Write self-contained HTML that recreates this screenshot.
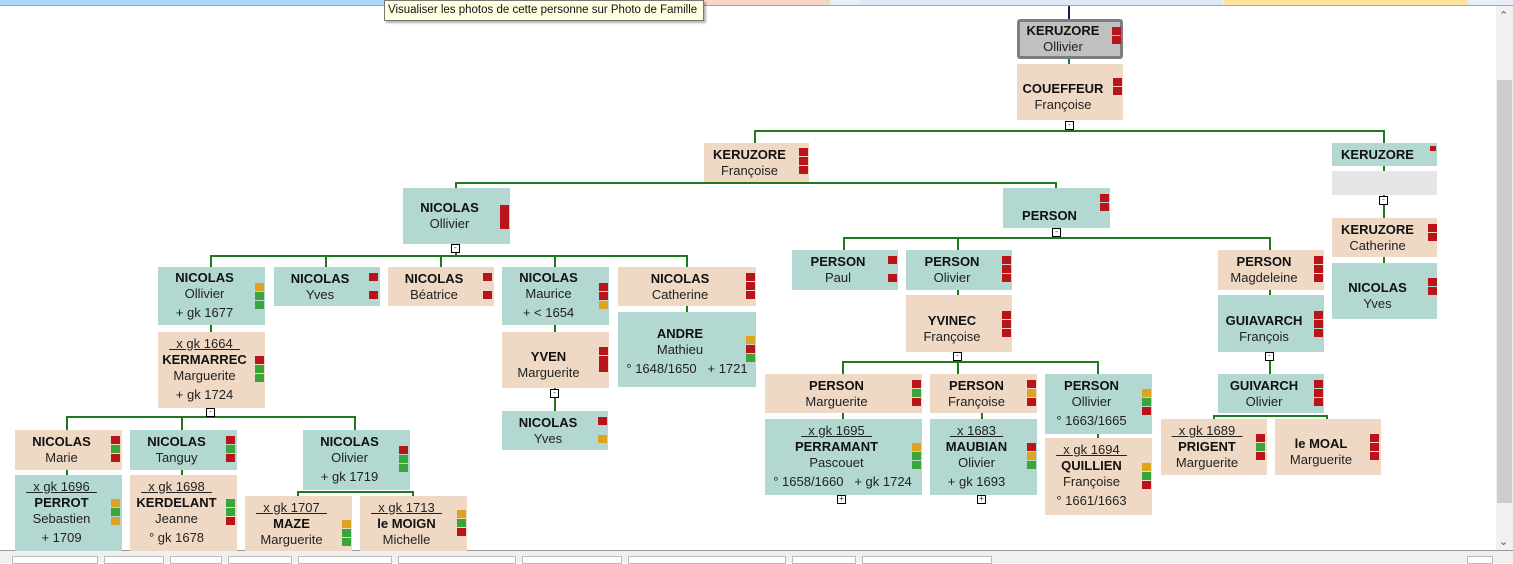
<!DOCTYPE html>
<html><head><meta charset="utf-8"><style>
*{margin:0;padding:0;box-sizing:border-box}
body{width:1513px;height:563px;position:relative;overflow:hidden;background:#fff;font-family:"Liberation Sans",Arial,sans-serif;font-size:13px;color:#222}
.b{position:absolute;display:flex;flex-direction:column;justify-content:center;align-items:center;padding-right:14px;line-height:16px;text-align:center}
.t{background:#b2d8d1}.e{background:#efd9c5}
.b b{font-weight:bold;font-size:13px;color:#111}
.u{text-decoration:underline;white-space:pre}
.l{margin-top:3px;margin-bottom:2px}
.sq{position:absolute;width:9px;height:8px}
.r{background:#b8141a}.g{background:#3aa53a}.y{background:#dca421}
.h{position:absolute;height:2px;background:#1f7a1f}
.v{position:absolute;width:2px;background:#1f7a1f}
.m{position:absolute;width:9px;height:9px;border:1px solid #000;background:#fff;font-size:8px;line-height:6px;text-align:center}
</style></head><body>
<!-- top bar -->
<div style="position:absolute;left:0;top:0;width:1513px;height:5px;background:#e8eef6"></div>
<div style="position:absolute;left:0;top:0;width:385px;height:5px;background:#a9d7f5"></div>
<div style="position:absolute;left:703px;top:0;width:127px;height:5px;background:#f6d6c6"></div>
<div style="position:absolute;left:860px;top:0;width:362px;height:5px;background:#dde9f7"></div>
<div style="position:absolute;left:1224px;top:0;width:244px;height:5px;background:#fbe49e"></div>
<div style="position:absolute;left:0;top:5px;width:1513px;height:1px;background:#9aa"></div>
<!-- scrollbar -->
<div style="position:absolute;left:1496px;top:6px;width:17px;height:544px;background:#f0f0f0"></div>
<div style="position:absolute;left:1497px;top:80px;width:15px;height:423px;background:#cdcdcd"></div>
<div style="position:absolute;left:1499px;top:9px;font-size:11px;color:#555">&#8963;</div>
<div style="position:absolute;left:1499px;top:535px;font-size:11px;color:#555">&#8964;</div>
<!-- bottom bar -->
<div style="position:absolute;left:0;top:550px;width:1513px;height:13px;background:#f0f0f0;border-top:1px solid #999"></div>
<div style="position:absolute;left:12px;top:556px;width:86px;height:8px;border:1px solid #bbb;background:#fff"></div>
<div style="position:absolute;left:104px;top:556px;width:60px;height:8px;border:1px solid #bbb;background:#fff"></div>
<div style="position:absolute;left:170px;top:556px;width:52px;height:8px;border:1px solid #bbb;background:#fff"></div>
<div style="position:absolute;left:228px;top:556px;width:64px;height:8px;border:1px solid #bbb;background:#fff"></div>
<div style="position:absolute;left:298px;top:556px;width:94px;height:8px;border:1px solid #bbb;background:#fff"></div>
<div style="position:absolute;left:398px;top:556px;width:118px;height:8px;border:1px solid #bbb;background:#fff"></div>
<div style="position:absolute;left:522px;top:556px;width:100px;height:8px;border:1px solid #bbb;background:#fff"></div>
<div style="position:absolute;left:628px;top:556px;width:158px;height:8px;border:1px solid #bbb;background:#fff"></div>
<div style="position:absolute;left:792px;top:556px;width:64px;height:8px;border:1px solid #bbb;background:#fff"></div>
<div style="position:absolute;left:862px;top:556px;width:130px;height:8px;border:1px solid #bbb;background:#fff"></div>
<div style="position:absolute;left:1467px;top:556px;width:26px;height:8px;border:1px solid #bbb;background:#fff"></div>

<!-- connectors -->
<div class="v" style="left:1068px;top:6px;height:13px;background:#1a1a5a"></div>
<div class="v" style="left:1068px;top:58px;height:6px"></div>
<div class="h" style="left:755px;top:130px;width:630px"></div>
<div class="v" style="left:754px;top:130px;height:13px"></div>
<div class="v" style="left:1383px;top:130px;height:13px"></div>
<div class="v" style="left:1383px;top:165px;height:6px"></div>
<div class="v" style="left:1383px;top:195px;height:23px"></div>
<div class="v" style="left:1383px;top:257px;height:6px"></div>
<div class="h" style="left:456px;top:182px;width:601px"></div>
<div class="v" style="left:455px;top:182px;height:6px"></div>
<div class="v" style="left:1055px;top:182px;height:6px"></div>
<div class="h" style="left:211px;top:255px;width:477px"></div>
<div class="v" style="left:455px;top:243px;height:12px"></div>
<div class="v" style="left:210px;top:255px;height:12px"></div>
<div class="v" style="left:325px;top:255px;height:12px"></div>
<div class="v" style="left:440px;top:255px;height:12px"></div>
<div class="v" style="left:554px;top:255px;height:12px"></div>
<div class="v" style="left:686px;top:255px;height:12px"></div>
<div class="v" style="left:210px;top:325px;height:7px"></div>
<div class="v" style="left:554px;top:325px;height:7px"></div>
<div class="v" style="left:686px;top:305px;height:7px"></div>
<div class="v" style="left:554px;top:387px;height:24px"></div>
<div class="h" style="left:67px;top:416px;width:289px"></div>
<div class="v" style="left:210px;top:407px;height:9px"></div>
<div class="v" style="left:66px;top:416px;height:14px"></div>
<div class="v" style="left:181px;top:416px;height:14px"></div>
<div class="v" style="left:354px;top:416px;height:14px"></div>
<div class="v" style="left:66px;top:469px;height:6px"></div>
<div class="v" style="left:181px;top:469px;height:6px"></div>
<div class="h" style="left:297px;top:491px;width:117px"></div>
<div class="v" style="left:297px;top:491px;height:5px"></div>
<div class="v" style="left:412px;top:491px;height:5px"></div>
<div class="h" style="left:844px;top:237px;width:427px"></div>
<div class="v" style="left:1055px;top:228px;height:9px"></div>
<div class="v" style="left:843px;top:237px;height:13px"></div>
<div class="v" style="left:957px;top:237px;height:13px"></div>
<div class="v" style="left:1269px;top:237px;height:13px"></div>
<div class="v" style="left:957px;top:289px;height:6px"></div>
<div class="v" style="left:1269px;top:289px;height:6px"></div>
<div class="v" style="left:1269px;top:351px;height:23px"></div>
<div class="h" style="left:842px;top:361px;width:257px"></div>
<div class="v" style="left:957px;top:351px;height:10px"></div>
<div class="v" style="left:842px;top:361px;height:13px"></div>
<div class="v" style="left:957px;top:361px;height:13px"></div>
<div class="v" style="left:1097px;top:361px;height:13px"></div>
<div class="v" style="left:842px;top:412px;height:7px"></div>
<div class="v" style="left:981px;top:412px;height:7px"></div>
<div class="v" style="left:1097px;top:433px;height:5px"></div>
<div class="h" style="left:1213px;top:415px;width:115px"></div>
<div class="v" style="left:1213px;top:415px;height:4px"></div>
<div class="v" style="left:1326px;top:415px;height:4px"></div>

<!-- minus/plus markers -->
<div class="m" style="left:1065px;top:121px">-</div>
<div class="m" style="left:1379px;top:196px">-</div>
<div class="m" style="left:451px;top:244px">-</div>
<div class="m" style="left:206px;top:408px">-</div>
<div class="m" style="left:550px;top:389px">-</div>
<div class="m" style="left:1052px;top:228px">-</div>
<div class="m" style="left:953px;top:352px">-</div>
<div class="m" style="left:1265px;top:352px">-</div>
<div class="m" style="left:837px;top:495px">+</div>
<div class="m" style="left:977px;top:495px">+</div>
<div style="position:absolute;left:503px;top:333px;width:7px;height:7px;background:#fff"></div>

<!-- boxes -->
<div class="b" style="left:1017px;top:19px;width:106px;height:40px;background:#c0c0c0;border:3px solid #7d7d7d;border-radius:3px"><b>KERUZORE</b>Ollivier</div>
<div class="sq r" style="left:1112px;top:27px"></div><div class="sq r" style="left:1112px;top:36px"></div>
<div class="b e" style="left:1017px;top:64px;width:106px;height:56px;padding-top:10px"><b>COUEFFEUR</b>Françoise</div>
<div class="sq r" style="left:1113px;top:78px"></div><div class="sq r" style="left:1113px;top:87px"></div>

<div class="b e" style="left:704px;top:143px;width:105px;height:39px"><b>KERUZORE</b>Françoise</div>
<div class="sq r" style="left:799px;top:148px"></div><div class="sq r" style="left:799px;top:157px"></div><div class="sq r" style="left:799px;top:166px"></div>

<div class="b t" style="left:1332px;top:143px;width:105px;height:23px"><b>KERUZORE</b></div>
<div class="sq r" style="left:1430px;top:146px;width:6px;height:5px"></div>
<div style="position:absolute;left:1332px;top:171px;width:105px;height:24px;background:#e6e6e8"></div>
<div class="b e" style="left:1332px;top:218px;width:105px;height:39px"><b>KERUZORE</b>Catherine</div>
<div class="sq r" style="left:1428px;top:224px"></div><div class="sq r" style="left:1428px;top:233px"></div>
<div class="b t" style="left:1332px;top:263px;width:105px;height:56px;padding-top:10px"><b>NICOLAS</b>Yves</div>
<div class="sq r" style="left:1428px;top:278px"></div><div class="sq r" style="left:1428px;top:287px"></div>

<div class="b t" style="left:403px;top:188px;width:107px;height:56px"><b>NICOLAS</b>Ollivier</div>
<div class="sq r" style="left:500px;top:205px"></div><div class="sq r" style="left:500px;top:213px"></div><div class="sq r" style="left:500px;top:221px"></div>
<div class="b t" style="left:1003px;top:188px;width:107px;height:40px;padding-top:16px"><b>PERSON</b></div>
<div class="sq r" style="left:1100px;top:194px"></div><div class="sq r" style="left:1100px;top:203px"></div>

<div class="b t" style="left:158px;top:267px;width:107px;height:58px;line-height:16px"><b>NICOLAS</b>Ollivier<span class="l">+ gk 1677</span></div>
<div class="sq y" style="left:255px;top:283px"></div><div class="sq g" style="left:255px;top:292px"></div><div class="sq g" style="left:255px;top:301px"></div>
<div class="b e" style="left:158px;top:332px;width:107px;height:76px"><span class="u">  x gk 1664  </span><b>KERMARREC</b>Marguerite<span class="l">+ gk 1724</span></div>
<div class="sq r" style="left:255px;top:356px"></div><div class="sq g" style="left:255px;top:365px"></div><div class="sq g" style="left:255px;top:374px"></div>
<div class="b t" style="left:274px;top:267px;width:106px;height:39px"><b>NICOLAS</b>Yves</div>
<div class="sq r" style="left:369px;top:273px"></div><div class="sq r" style="left:369px;top:291px"></div>
<div class="b e" style="left:388px;top:267px;width:106px;height:39px"><b>NICOLAS</b>Béatrice</div>
<div class="sq r" style="left:483px;top:273px"></div><div class="sq r" style="left:483px;top:291px"></div>
<div class="b t" style="left:502px;top:267px;width:107px;height:58px"><b>NICOLAS</b>Maurice<span class="l">+ &lt; 1654</span></div>
<div class="sq r" style="left:599px;top:283px"></div><div class="sq r" style="left:599px;top:292px"></div><div class="sq y" style="left:599px;top:301px"></div>
<div class="b e" style="left:502px;top:332px;width:107px;height:56px;padding-top:10px"><b>YVEN</b>Marguerite</div>
<div class="sq r" style="left:599px;top:347px"></div><div class="sq r" style="left:599px;top:356px"></div><div class="sq r" style="left:599px;top:364px"></div>
<div class="b t" style="left:502px;top:411px;width:106px;height:39px"><b>NICOLAS</b>Yves</div>
<div class="sq r" style="left:598px;top:417px"></div><div class="sq y" style="left:598px;top:435px"></div>
<div class="b e" style="left:618px;top:267px;width:138px;height:39px"><b>NICOLAS</b>Catherine</div>
<div class="sq r" style="left:746px;top:273px"></div><div class="sq r" style="left:746px;top:282px"></div><div class="sq r" style="left:746px;top:291px"></div>
<div class="b t" style="left:618px;top:312px;width:138px;height:75px;padding-top:6px"><b>ANDRE</b>Mathieu<span class="l" style="white-space:pre;margin-left:14px">° 1648/1650   + 1721</span></div>
<div class="sq y" style="left:746px;top:336px"></div><div class="sq r" style="left:746px;top:345px"></div><div class="sq g" style="left:746px;top:354px"></div>

<div class="b e" style="left:15px;top:430px;width:107px;height:40px"><b>NICOLAS</b>Marie</div>
<div class="sq r" style="left:111px;top:436px"></div><div class="sq g" style="left:111px;top:445px"></div><div class="sq r" style="left:111px;top:454px"></div>
<div class="b t" style="left:15px;top:475px;width:107px;height:76px"><span class="u">  x gk 1696  </span><b>PERROT</b>Sebastien<span class="l">+ 1709</span></div>
<div class="sq y" style="left:111px;top:499px"></div><div class="sq g" style="left:111px;top:508px"></div><div class="sq y" style="left:111px;top:517px"></div>
<div class="b t" style="left:130px;top:430px;width:107px;height:40px"><b>NICOLAS</b>Tanguy</div>
<div class="sq r" style="left:226px;top:436px"></div><div class="sq g" style="left:226px;top:445px"></div><div class="sq r" style="left:226px;top:454px"></div>
<div class="b e" style="left:130px;top:475px;width:107px;height:76px"><span class="u">  x gk 1698  </span><b>KERDELANT</b>Jeanne<span class="l">° gk 1678</span></div>
<div class="sq g" style="left:226px;top:499px"></div><div class="sq g" style="left:226px;top:508px"></div><div class="sq r" style="left:226px;top:517px"></div>
<div class="b t" style="left:303px;top:430px;width:107px;height:60px"><b>NICOLAS</b>Olivier<span class="l">+ gk 1719</span></div>
<div class="sq r" style="left:399px;top:446px"></div><div class="sq g" style="left:399px;top:455px"></div><div class="sq g" style="left:399px;top:464px"></div>
<div class="b e" style="left:245px;top:496px;width:107px;height:55px"><span class="u">  x gk 1707  </span><b>MAZE</b>Marguerite</div>
<div class="sq y" style="left:342px;top:520px"></div><div class="sq g" style="left:342px;top:529px"></div><div class="sq g" style="left:342px;top:538px"></div>
<div class="b e" style="left:360px;top:496px;width:107px;height:55px"><span class="u">  x gk 1713  </span><b>le MOIGN</b>Michelle</div>
<div class="sq y" style="left:457px;top:510px"></div><div class="sq g" style="left:457px;top:519px"></div><div class="sq r" style="left:457px;top:528px"></div>

<div class="b t" style="left:792px;top:250px;width:106px;height:40px"><b>PERSON</b>Paul</div>
<div class="sq r" style="left:888px;top:256px"></div><div class="sq r" style="left:888px;top:274px"></div>
<div class="b t" style="left:906px;top:250px;width:106px;height:40px"><b>PERSON</b>Olivier</div>
<div class="sq r" style="left:1002px;top:256px"></div><div class="sq r" style="left:1002px;top:265px"></div><div class="sq r" style="left:1002px;top:274px"></div>
<div class="b e" style="left:906px;top:295px;width:106px;height:57px;padding-top:10px"><b>YVINEC</b>Françoise</div>
<div class="sq r" style="left:1002px;top:311px"></div><div class="sq r" style="left:1002px;top:320px"></div><div class="sq r" style="left:1002px;top:329px"></div>
<div class="b e" style="left:1218px;top:250px;width:106px;height:40px"><b>PERSON</b>Magdeleine</div>
<div class="sq r" style="left:1314px;top:256px"></div><div class="sq r" style="left:1314px;top:265px"></div><div class="sq r" style="left:1314px;top:274px"></div>
<div class="b t" style="left:1218px;top:295px;width:106px;height:57px;padding-top:10px"><b>GUIAVARCH</b>François</div>
<div class="sq r" style="left:1314px;top:311px"></div><div class="sq r" style="left:1314px;top:320px"></div><div class="sq r" style="left:1314px;top:329px"></div>
<div class="b t" style="left:1218px;top:374px;width:106px;height:39px"><b>GUIVARCH</b>Olivier</div>
<div class="sq r" style="left:1314px;top:380px"></div><div class="sq r" style="left:1314px;top:389px"></div><div class="sq r" style="left:1314px;top:398px"></div>
<div class="b e" style="left:1161px;top:419px;width:106px;height:56px"><span class="u">  x gk 1689  </span><b>PRIGENT</b>Marguerite</div>
<div class="sq r" style="left:1256px;top:434px"></div><div class="sq g" style="left:1256px;top:443px"></div><div class="sq r" style="left:1256px;top:452px"></div>
<div class="b e" style="left:1275px;top:419px;width:106px;height:56px;padding-top:10px"><b>le MOAL</b>Marguerite</div>
<div class="sq r" style="left:1370px;top:434px"></div><div class="sq r" style="left:1370px;top:443px"></div><div class="sq r" style="left:1370px;top:452px"></div>

<div class="b e" style="left:765px;top:374px;width:157px;height:39px"><b>PERSON</b>Marguerite</div>
<div class="sq r" style="left:912px;top:380px"></div><div class="sq g" style="left:912px;top:389px"></div><div class="sq r" style="left:912px;top:398px"></div>
<div class="b t" style="left:765px;top:419px;width:157px;height:76px"><span class="u">  x gk 1695  </span><b>PERRAMANT</b>Pascouet<span class="l" style="white-space:pre;margin-left:12px">° 1658/1660   + gk 1724</span></div>
<div class="sq y" style="left:912px;top:443px"></div><div class="sq g" style="left:912px;top:452px"></div><div class="sq g" style="left:912px;top:461px"></div>
<div class="b e" style="left:930px;top:374px;width:107px;height:39px"><b>PERSON</b>Françoise</div>
<div class="sq r" style="left:1027px;top:380px"></div><div class="sq y" style="left:1027px;top:389px"></div><div class="sq r" style="left:1027px;top:398px"></div>
<div class="b t" style="left:930px;top:419px;width:107px;height:76px"><span class="u">  x 1683  </span><b>MAUBIAN</b>Olivier<span class="l">+ gk 1693</span></div>
<div class="sq r" style="left:1027px;top:443px"></div><div class="sq y" style="left:1027px;top:452px"></div><div class="sq g" style="left:1027px;top:461px"></div>
<div class="b t" style="left:1045px;top:374px;width:107px;height:60px"><b>PERSON</b>Ollivier<span class="l">° 1663/1665</span></div>
<div class="sq y" style="left:1142px;top:389px"></div><div class="sq g" style="left:1142px;top:398px"></div><div class="sq r" style="left:1142px;top:407px"></div>
<div class="b e" style="left:1045px;top:438px;width:107px;height:77px"><span class="u">  x gk 1694  </span><b>QUILLIEN</b>Françoise<span class="l">° 1661/1663</span></div>
<div class="sq y" style="left:1142px;top:463px"></div><div class="sq g" style="left:1142px;top:472px"></div><div class="sq r" style="left:1142px;top:481px"></div>

<!-- tooltip -->
<div style="position:absolute;left:384px;top:0;width:320px;height:21px;background:#ffffe1;border:1px solid #767676;box-shadow:2px 2px 2px rgba(0,0,0,.3);font-size:11.5px;line-height:19px;padding-left:3px;color:#111;white-space:nowrap;overflow:hidden">Visualiser les photos de cette personne sur Photo de Famille</div>
</body></html>
